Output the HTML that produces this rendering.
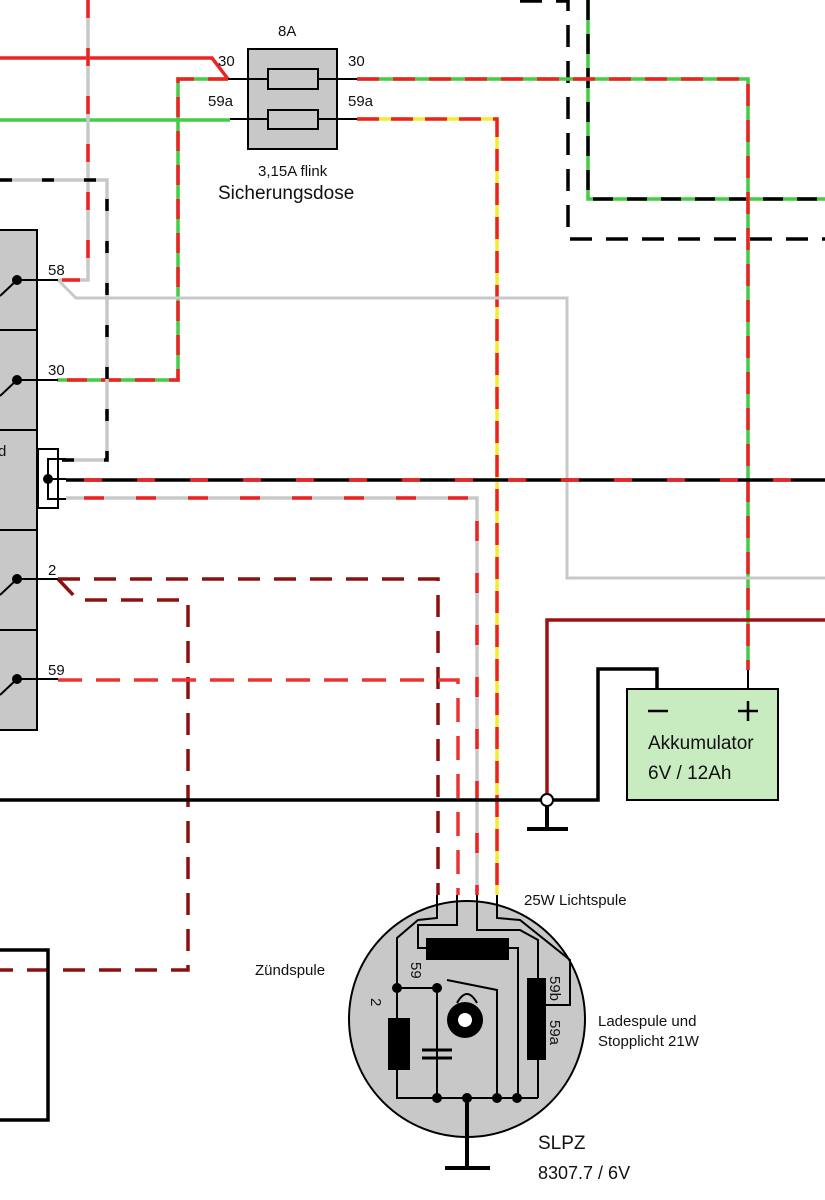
<!DOCTYPE html>
<html><head><meta charset="utf-8"><style>
html,body{margin:0;padding:0;background:#fff}
svg{display:block}
text{font-family:"Liberation Sans",sans-serif;fill:#111}
</style></head><body>
<svg width="825" height="1200" viewBox="0 0 825 1200" xmlns="http://www.w3.org/2000/svg" fill="none">
<path d="M520 1 H568 V239 H825" stroke="#000" stroke-width="3.5" stroke-dasharray="22 14"/>
<path d="M588 0 V199 H825" stroke="#4c4" stroke-width="3.5"/>
<path d="M588 0 V199 H825" stroke="#000" stroke-width="3.5" stroke-dasharray="20 14"/>
<path d="M0 58 H212 L228 79" stroke="#e22" stroke-width="3.5"/>
<path d="M0 120 H230" stroke="#4c4" stroke-width="3.5"/>
<path d="M228 79 H178 V380 H57" stroke="#4c4" stroke-width="3.5"/>
<path d="M228 79 H178 V380 H57" stroke="#e22" stroke-width="3.5" stroke-dasharray="20 14"/>
<path d="M357 79 H748 V670" stroke="#4c4" stroke-width="3.5"/>
<path d="M357 79 H748 V670" stroke="#e22" stroke-width="3.5" stroke-dasharray="22 14"/>
<path d="M748 670 V689" stroke="#000" stroke-width="2"/>
<path d="M357 119 H497 V895" stroke="#ee3" stroke-width="3.5"/>
<path d="M357 119 H497 V895" stroke="#e22" stroke-width="3.5" stroke-dasharray="22 12"/>
<path d="M58 280 L76 298 H567 V578 H825" stroke="#c8c8c8" stroke-width="3"/>
<path d="M88 0 V280 H58" stroke="#c8c8c8" stroke-width="3.5"/>
<path d="M88 0 V280 H58" stroke="#e22" stroke-width="3.5" stroke-dasharray="18 30"/>
<path d="M0 180 H107 V460 H62" stroke="#c8c8c8" stroke-width="3.5"/>
<path d="M0 180 H107 V460 H62" stroke="#000" stroke-width="3.5" stroke-dasharray="12 30"/>
<path d="M66 480 H825" stroke="#000" stroke-width="3.5"/>
<path d="M84 480 H825" stroke="#e22" stroke-width="3.5" stroke-dasharray="18 35"/>
<path d="M66 498 H477 V895" stroke="#c8c8c8" stroke-width="3.5"/>
<path d="M84 498 H477 V895" stroke="#e22" stroke-width="3.5" stroke-dasharray="20 32"/>
<path d="M58 579 H438 V895" stroke="#8b1010" stroke-width="3.5" stroke-dasharray="22 14"/>
<path d="M58 579 L78 600 H188 V970 H0" stroke="#8b1010" stroke-width="3.5" stroke-dasharray="22 14"/>
<path d="M58 680 H458 V895" stroke="#e33" stroke-width="3.5" stroke-dasharray="24 14"/>
<path d="M0 800 H598 V669 H657 V689" stroke="#000" stroke-width="3.5"/>
<path d="M547 800 V620 H825" stroke="#a01010" stroke-width="3.5"/>
<path d="M547 800 V829 M527 829 H568" stroke="#000" stroke-width="4"/>
<circle cx="547" cy="800" r="6" fill="#fff" stroke="#000" stroke-width="2"/>
<rect x="248" y="49" width="89" height="100" fill="#c8c8c8" stroke="#000" stroke-width="2"/>
<path d="M228 79 H357 M230 119 H357" stroke="#000" stroke-width="2"/>
<rect x="268" y="69" width="50" height="20" fill="#c8c8c8" stroke="#000" stroke-width="2"/>
<rect x="268" y="110" width="50" height="19" fill="#c8c8c8" stroke="#000" stroke-width="2"/>
<text x="278" y="36" font-size="15">8A</text>
<text x="218" y="66" font-size="15">30</text>
<text x="348" y="66" font-size="15">30</text>
<text x="208" y="106" font-size="15">59a</text>
<text x="348" y="106" font-size="15">59a</text>
<text x="258" y="176" font-size="15">3,15A flink</text>
<text x="218" y="199" font-size="19">Sicherungsdose</text>
<rect x="-2" y="230" width="39" height="500" fill="#c8c8c8" stroke="#000" stroke-width="2"/>
<path d="M0 330 H37 M0 430 H37 M0 530 H37 M0 630 H37" stroke="#000" stroke-width="2"/>
<g stroke="#000" stroke-width="2">
<path d="M17 280 H58 M17 280 L0 296"/><path d="M17 380 H58 M17 380 L0 396"/>
<path d="M17 579 H58 M17 579 L0 595"/><path d="M17 679 H58 M17 679 L0 695"/>
</g>
<g fill="#000"><circle cx="17" cy="280" r="5"/><circle cx="17" cy="380" r="5"/><circle cx="17" cy="579" r="5"/><circle cx="17" cy="679" r="5"/></g>
<text x="48" y="275" font-size="15">58</text>
<text x="48" y="375" font-size="15">30</text>
<text x="48" y="575" font-size="15">2</text>
<text x="48" y="675" font-size="15">59</text>
<text x="-2" y="456" font-size="15">d</text>
<rect x="38" y="449" width="20" height="59" fill="#fff" stroke="#000" stroke-width="2"/>
<path d="M66 459 H48 V499 H66 M48 479 H66" stroke="#000" stroke-width="2"/>
<circle cx="48" cy="479" r="5" fill="#000"/>
<path d="M0 950 H48 V1120 H0" stroke="#000" stroke-width="3.5"/>
<rect x="627" y="689" width="151" height="111" fill="#c8ecc0" stroke="#000" stroke-width="2"/>
<path d="M648 711 H668 M738 711 H758 M748 701 V721" stroke="#000" stroke-width="2.5"/>
<text x="648" y="749" font-size="19">Akkumulator</text>
<text x="648" y="779" font-size="19">6V / 12Ah</text>
<circle cx="467" cy="1019" r="118" fill="#c8c8c8" stroke="#000" stroke-width="2"/>
<g stroke="#000" stroke-width="2">
<path d="M437 895 V918 L418 920 L397 938 V1098 H538"/>
<path d="M457 895 V925 H418 V948 H426"/>
<path d="M477 895 V930 H520 L538 940 V1098"/>
<path d="M497 895 V918 L520 920 L570 960 L570 1005 H546"/>
<path d="M509 948 H518 V1098"/>
<path d="M397 988 H437 V1098"/>
<path d="M447 980 L497 990 V1098"/>
<path d="M467 1098 V1168 M445 1168 H490" stroke-width="4"/>
<path d="M422 1050 H452 M422 1058 H452" stroke-width="3"/>
<path d="M457 1003 Q467 985 477 1003"/>
</g>
<rect x="426" y="938" width="83" height="22" fill="#000"/>
<rect x="527" y="978" width="19" height="82" fill="#000"/>
<rect x="388" y="1018" width="22" height="52" fill="#000"/>
<circle cx="465" cy="1020" r="18" fill="#000"/>
<circle cx="465" cy="1020" r="7" fill="#fff"/>
<g fill="#000"><circle cx="397" cy="988" r="5"/><circle cx="437" cy="988" r="5"/><circle cx="437" cy="1098" r="5"/><circle cx="467" cy="1098" r="5"/><circle cx="497" cy="1098" r="5"/><circle cx="517" cy="1098" r="5"/></g>
<text x="0" y="0" font-size="15" transform="translate(411,962) rotate(90)">59</text>
<text x="0" y="0" font-size="15" transform="translate(371,998) rotate(90)">2</text>
<text x="0" y="0" font-size="15" transform="translate(550,976) rotate(90)">59b</text>
<text x="0" y="0" font-size="15" transform="translate(550,1020) rotate(90)">59a</text>
<text x="524" y="905" font-size="15">25W Lichtspule</text>
<text x="255" y="975" font-size="15">Zündspule</text>
<text x="598" y="1026" font-size="15">Ladespule und</text>
<text x="598" y="1046" font-size="15">Stopplicht 21W</text>
<text x="538" y="1149" font-size="19">SLPZ</text>
<text x="538" y="1179" font-size="18">8307.7 / 6V</text>
</svg>
</body></html>
